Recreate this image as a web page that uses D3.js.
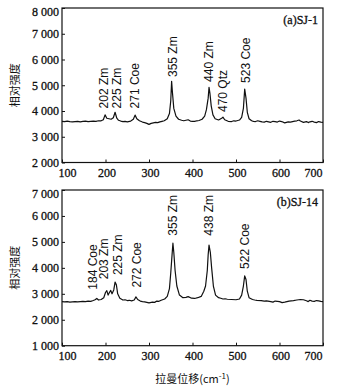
<!DOCTYPE html>
<html>
<head>
<meta charset="utf-8">
<script src="https://cdn.jsdelivr.net/npm/d3@7"></script>
<style>
    body{margin:0;background:#fff;}
    .tick text{font-family:"Liberation Serif",serif;font-size:12px;fill:#111;stroke:#111;stroke-width:0.3;}
</style>
</head>
<body>
<div id="chart"></div>
<script>
//raman shift (cm-1) and intensity, panel (a) SJ-1
var shiftA=[100,106,112,118,124,130,136,142,148,154,160,166,172,178,184,190,195,199,203,208,213,218,222,226,230,235,240,245,250,258,264,268,272,278,285,290,295,300,305,310,315,320,325,330,335,342,347,350,352,354,357,362,368,375,380,385,390,395,400,405,410,415,422,428,432,436,438,440,443,447,452,460,467,470,474,482,490,495,500,508,513,517,520,523,526,530,536,540,545,550,555,560,565,570,575,580,585,590,595,600,605,612,620,625,630,635,640,645,648,655,662,666,670,675,680,685,690,695,700];
var intensityA=[3600,3590,3610,3590,3580,3590,3600,3580,3600,3610,3590,3600,3610,3600,3620,3620,3660,3850,3720,3700,3680,3740,3950,3720,3640,3610,3590,3600,3580,3610,3680,3840,3700,3620,3570,3550,3520,3480,3520,3540,3560,3550,3580,3600,3620,3700,3900,4400,5150,4700,4100,3800,3680,3640,3620,3640,3660,3610,3600,3600,3620,3630,3680,3800,4050,4500,4920,4700,4200,3850,3700,3650,3720,3760,3660,3600,3590,3620,3610,3650,3750,4100,4850,4500,3950,3700,3620,3600,3590,3620,3600,3580,3570,3600,3580,3560,3600,3590,3570,3610,3590,3540,3580,3570,3590,3610,3620,3650,3610,3560,3590,3550,3580,3600,3570,3550,3590,3570,3560];

//panel (b) SJ-14
var shiftB=[100,106,112,118,124,130,136,142,148,154,160,166,172,176,180,184,190,196,200,203,206,209,212,215,219,222,225,228,233,240,245,250,255,260,266,270,274,280,285,290,295,300,308,313,318,323,328,336,342,347,350,353,355,357,360,364,370,378,385,390,398,405,412,420,426,430,434,436,438,441,444,448,453,460,465,470,475,480,490,500,508,513,517,520,523,526,530,538,543,548,558,565,570,580,585,590,600,606,612,622,632,640,648,655,662,666,670,675,680,685,690,695,700];
var intensityB=[2700,2690,2700,2680,2690,2700,2690,2700,2710,2700,2720,2710,2740,2770,2820,2760,2780,2850,3050,3120,2950,3050,3130,3000,3150,3450,3350,3000,2830,2760,2770,2740,2750,2730,2760,2880,2780,2720,2700,2690,2670,2650,2680,2670,2720,2710,2750,2800,2900,3200,3800,4500,4950,4600,3900,3300,2950,2850,2860,2890,2830,2820,2850,2900,3100,3300,3900,4500,4880,4600,4000,3300,2950,2850,2830,2800,2810,2790,2780,2770,2800,2950,3300,3690,3550,3100,2850,2780,2760,2750,2740,2720,2730,2700,2680,2720,2700,2660,2680,2720,2740,2760,2780,2770,2730,2700,2750,2720,2710,2740,2730,2710,2700];

//peak labels: text, where the label sits (shift), bottom of the label (intensity)
var peakTextA=["202 Zm","225 Zm","271 Coe","355 Zm","440 Zm","470 Qtz","523 Coe"];
var peakXA=[195,226,268,355,437,470,523];
var peakYA=[4100,4100,4100,5320,5130,3960,5090];

var peakTextB=["184 Coe","203 Zm","225 Zm","272 Coe","355 Zm","438 Zm","522 Coe"];
var peakXB=[170,197,229,272,355,438,521];
var peakYB=[3160,3560,3720,3240,5240,5240,3960];

//ticks
var xTicks=[100,200,300,400,500,600,700];
var yTicksA=[2000,3000,4000,5000,6000,7000,8000];
var yTicksB=[1000,2000,3000,4000,5000,6000,7000];

var w=343,
    h=391,
    left=62,
    right=323;

var svg=d3.select("#chart").append("svg")
    .attr("width",w)
    .attr("height",h);

var x=d3.scaleLinear().domain([100,700]).range([left,right]);

function fmt(d){return d3.format(",")(d).replace(","," ");}

function drawPanel(opt)
{
    var y=d3.scaleLinear().domain(opt.domain).range([opt.bottom,opt.top]);
    var g=svg.append("g");

    //1.frame
    g.append("rect")
        .attr("x",left).attr("y",opt.top)
        .attr("width",right-left).attr("height",opt.bottom-opt.top)
        .attr("fill","none").attr("stroke","#111").attr("stroke-width",1.2);

    //2.axes, ticks pointing inward
    var xa=g.append("g").attr("transform","translate(0,"+opt.bottom+")")
        .call(d3.axisBottom(x).tickValues(xTicks).tickSizeInner(-3).tickSizeOuter(0).tickPadding(6));
    xa.select(".domain").remove();
    xa.selectAll("text").attr("dx",function(d){if(d==100){return 5} if(d==700){return -10} return 1});

    var ya=g.append("g").attr("transform","translate("+left+",0)")
        .call(d3.axisLeft(y).tickValues(opt.yTicks).tickFormat(fmt).tickSizeInner(-3).tickSizeOuter(0).tickPadding(3));
    ya.select(".domain").remove();
    ya.selectAll("text").attr("dy",function(d,i){return i==opt.yTicks.length-1?"0.65em":"0.32em"});
    g.selectAll(".tick line").attr("stroke","#111").attr("stroke-width",1);

    //3.spectrum
    var pts=opt.xs.map(function(d,i){return [d,opt.ys[i]]});
    g.append("path")
        .datum(pts)
        .attr("fill","none")
        .attr("stroke","#111")
        .attr("stroke-width",1.2)
        .attr("stroke-linejoin","round")
        .attr("d",d3.line().x(function(d){return x(d[0])}).y(function(d){return y(d[1])}));

    //4.peak labels
    g.selectAll(".peak").data(opt.labels).enter()
        .append("text")
        .attr("class","peak")
        .attr("transform",function(d){return "translate("+x(d.x)+","+y(d.y)+") rotate(-90)"})
        .attr("dy","0.35em")
        .attr("font-family","Liberation Sans, Arial, sans-serif")
        .attr("font-size","12px")
        .attr("fill","#111")
        .text(function(d){return d.t});

    //5.sample name
    g.append("text")
        .attr("x",318).attr("y",opt.top+16)
        .attr("text-anchor","end")
        .attr("font-family","Liberation Serif, serif")
        .attr("font-size","12px")
        .attr("fill","#111")
        .attr("stroke","#111").attr("stroke-width",0.3)
        .text(opt.name);

    //6.y title
    g.append("text")
        .attr("transform","translate(19,"+((opt.top+opt.bottom)/2)+") rotate(-90)")
        .attr("text-anchor","middle")
        .attr("font-family","Noto Sans CJK SC, sans-serif")
        .attr("font-size","11px")
        .attr("fill","#111")
        .text("相对强度");
}

drawPanel({
    domain:[2000,8000], top:8, bottom:162.5,
    yTicks:yTicksA, xs:shiftA, ys:intensityA, name:"(a)SJ-1",
    labels:peakTextA.map(function(t,i){return {t:t,x:peakXA[i],y:peakYA[i]}})
});
drawPanel({
    domain:[1000,7000], top:190, bottom:345.7,
    yTicks:yTicksB, xs:shiftB, ys:intensityB, name:"(b)SJ-14",
    labels:peakTextB.map(function(t,i){return {t:t,x:peakXB[i],y:peakYB[i]}})
});

//x title
var xt=svg.append("text")
    .attr("x",(left+right)/2).attr("y",383)
    .attr("text-anchor","middle")
    .attr("font-family","Noto Sans CJK SC, sans-serif")
    .attr("font-size","11px")
    .attr("fill","#111");
xt.append("tspan").text("拉曼位移(cm");
xt.append("tspan").attr("dy",-4).attr("font-size","8px").text("-1");
xt.append("tspan").attr("dy",4).text(")");
</script>
</body>
</html>
